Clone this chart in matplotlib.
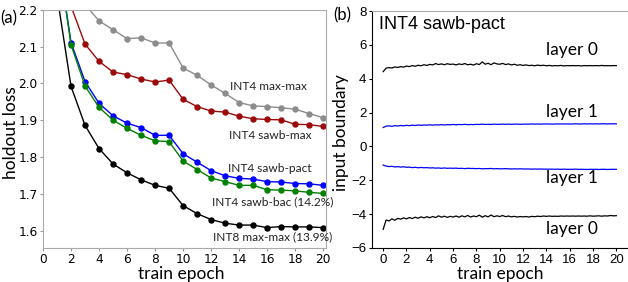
import numpy as np
import matplotlib
matplotlib.use("Agg")
import matplotlib.pyplot as plt

# ---- panel (a): holdout loss per epoch ----
epochs = list(range(1, 21))
int4_maxmax = [2.60, 2.40, 2.215, 2.170, 2.146, 2.122, 2.124, 2.110, 2.110, 2.042,
               2.022, 1.996, 1.973, 1.948, 1.939, 1.937, 1.934, 1.930, 1.918, 1.907]
int4_sawbmax = [2.50, 2.21, 2.107, 2.060, 2.031, 2.024, 2.012, 2.004, 2.009, 1.957,
                1.937, 1.925, 1.922, 1.911, 1.904, 1.902, 1.901, 1.889, 1.888, 1.883]
int4_sawbpact = [2.365, 2.111, 2.005, 1.946, 1.912, 1.892, 1.880, 1.859, 1.859, 1.809,
                 1.786, 1.763, 1.749, 1.742, 1.740, 1.733, 1.732, 1.728, 1.727, 1.723]
int4_sawbbac = [2.37, 2.105, 1.993, 1.935, 1.900, 1.878, 1.859, 1.844, 1.842, 1.789,
                1.766, 1.743, 1.733, 1.723, 1.723, 1.711, 1.710, 1.708, 1.704, 1.701]
int8_maxmax = [2.24, 1.992, 1.886, 1.823, 1.781, 1.757, 1.738, 1.723, 1.715, 1.668,
               1.646, 1.630, 1.620, 1.615, 1.615, 1.608, 1.611, 1.610, 1.610, 1.608]

# ---- panel (b): input boundary, sampled every 0.25 epoch ----
t_b = np.arange(81) * 0.25
l0_upper = [4.42, 4.63, 4.66, 4.64, 4.70, 4.67, 4.72, 4.69, 4.75,
            4.72, 4.78, 4.74, 4.80, 4.77, 4.83, 4.79, 4.85,
            4.82, 4.90, 4.84, 4.88, 4.83, 4.89, 4.85, 4.87,
            4.82, 4.88, 4.84, 4.90, 4.83, 4.86, 4.81, 4.89,
            4.84, 5.00, 4.86, 4.92, 4.83, 4.94, 4.88, 4.86,
            4.91, 4.84, 4.88, 4.82, 4.86, 4.80, 4.83, 4.79,
            4.82, 4.78, 4.80, 4.77, 4.81, 4.78, 4.80, 4.77,
            4.79, 4.76, 4.78, 4.77, 4.79, 4.76, 4.78, 4.77,
            4.78, 4.77, 4.78, 4.76, 4.78, 4.77, 4.78, 4.77,
            4.78, 4.77, 4.79, 4.77, 4.78, 4.77, 4.78, 4.78]
l1_upper = [1.12, 1.20, 1.22, 1.19, 1.23, 1.21, 1.24, 1.22, 1.25,
            1.23, 1.26, 1.24, 1.27, 1.25, 1.27, 1.26, 1.28,
            1.26, 1.28, 1.27, 1.29, 1.27, 1.29, 1.28, 1.30,
            1.28, 1.30, 1.29, 1.31, 1.29, 1.30, 1.29, 1.31,
            1.30, 1.32, 1.30, 1.31, 1.30, 1.32, 1.31, 1.31,
            1.32, 1.31, 1.32, 1.31, 1.32, 1.32, 1.31, 1.32,
            1.32, 1.32, 1.33, 1.32, 1.33, 1.32, 1.33, 1.33,
            1.33, 1.32, 1.33, 1.33, 1.33, 1.33, 1.33, 1.33,
            1.33, 1.34, 1.33, 1.33, 1.34, 1.33, 1.34, 1.33,
            1.34, 1.33, 1.34, 1.34, 1.33, 1.34, 1.34, 1.34]
l1_lower = [-1.10, -1.16, -1.19, -1.17, -1.21, -1.19, -1.22, -1.20, -1.23,
            -1.22, -1.25, -1.23, -1.26, -1.24, -1.26, -1.25, -1.27,
            -1.26, -1.28, -1.27, -1.29, -1.27, -1.29, -1.28, -1.29,
            -1.28, -1.30, -1.29, -1.31, -1.29, -1.30, -1.30, -1.31,
            -1.30, -1.32, -1.31, -1.31, -1.30, -1.32, -1.31, -1.32,
            -1.32, -1.31, -1.32, -1.33, -1.32, -1.33, -1.32, -1.33,
            -1.33, -1.33, -1.34, -1.33, -1.34, -1.33, -1.34, -1.34,
            -1.34, -1.34, -1.35, -1.34, -1.35, -1.34, -1.35, -1.35,
            -1.35, -1.34, -1.35, -1.35, -1.35, -1.36, -1.35, -1.35,
            -1.35, -1.36, -1.35, -1.35, -1.36, -1.35, -1.35, -1.35]
l0_lower = [-4.90, -4.35, -4.40, -4.28, -4.36, -4.25, -4.30, -4.22, -4.28,
            -4.20, -4.26, -4.18, -4.24, -4.16, -4.22, -4.15, -4.21,
            -4.14, -4.20, -4.10, -4.18, -4.12, -4.19, -4.13, -4.17,
            -4.11, -4.18, -4.10, -4.16, -4.08, -4.17, -4.11, -4.15,
            -4.06, -4.18, -4.09, -4.16, -4.05, -4.15, -4.10, -4.14,
            -4.08, -4.15, -4.11, -4.16, -4.13, -4.17, -4.14, -4.16,
            -4.14, -4.17, -4.13, -4.15, -4.12, -4.14, -4.11, -4.13,
            -4.11, -4.13, -4.12, -4.13, -4.11, -4.12, -4.11, -4.12,
            -4.11, -4.12, -4.11, -4.12, -4.11, -4.12, -4.10, -4.12,
            -4.11, -4.10, -4.12, -4.10, -4.11, -4.08, -4.10, -4.09]

label_font = "Lato"
W, H = 628, 282

fig = plt.figure(figsize=(6.28, 2.82), dpi=100)

# panel (a)
ax1 = fig.add_axes([0.0685, 0.121, 0.4506, 0.844])
series_a = [
    (int4_maxmax, "#8c8c8c", "INT4 max-max", 16.1, 1.991, "center"),
    (int4_sawbmax, "#9b0a0a", "INT4 sawb-max", 16.2, 1.858, "center"),
    (int4_sawbpact, "#0000ff", "INT4 sawb-pact", 16.2, 1.770, "center"),
    (int4_sawbbac, "#008000", "INT4 sawb-bac (14.2%)", 12.05, 1.679, "left"),
    (int8_maxmax, "#000000", "INT8 max-max (13.9%)", 12.15, 1.582, "left"),
]
for vals, col, lab, tx, ty, ha in series_a:
    ax1.plot(epochs, vals, color=col, lw=1.0, marker="o", ms=3.6)
    ax1.text(tx, ty, lab, ha=ha, va="center", fontsize=8.6, family=label_font,
             color="#222222")
ax1.set_xlim(0, 20.2)
ax1.set_ylim(1.553, 2.2)
ax1.set_xticks(range(0, 21, 2))
ax1.set_yticks([1.6, 1.7, 1.8, 1.9, 2.0, 2.1, 2.2])
ax1.tick_params(labelsize=8.7, length=2.5, pad=1.5, color="#999999")
for s in ax1.spines.values():
    s.set_color("#aaaaaa")
fig.text(181 / W, 1 - 274 / H, "train epoch", fontsize=12.5, family=label_font,
         ha="center", va="center")
fig.text(11 / W, 1 - 133 / H, "holdout loss", fontsize=12.5, family=label_font,
         rotation=90, ha="center", va="center")
fig.text(0.0, 1 - 18 / H, "(a)", fontsize=12, family=label_font, va="center")

# panel (b)
ax2 = fig.add_axes([0.5925, 0.1206, 0.4075, 0.840])
ax2.plot(t_b, l0_upper, color="black", lw=0.9)
ax2.plot(t_b, l1_upper, color="#0000ff", lw=0.9)
ax2.plot(t_b, l1_lower, color="#0000ff", lw=0.9)
ax2.plot(t_b, l0_lower, color="black", lw=0.9)
ax2.set_xlim(-0.95, 21.0)
ax2.set_ylim(-6, 8)
ax2.set_xticks(range(0, 21, 2))
ax2.set_yticks(range(-6, 9, 2))
ax2.tick_params(labelsize=9.5, length=2.5, pad=1.5)
for lab in ax2.get_xticklabels() + ax2.get_yticklabels():
    lab.set_family("Liberation Sans")
ax2.spines["top"].set_color("#aaaaaa")
ax2.spines["right"].set_visible(False)
ax2.text(-0.35, 7.2, "INT4 sawb-pact", fontsize=13, family="Liberation Sans",
         va="center")
for ty, lab in [(5.72, "layer 0"), (2.03, "layer 1"), (-1.88, "layer 1"), (-4.87, "layer 0")]:
    ax2.text(16.2, ty, lab, fontsize=12.5, family=label_font, ha="center", va="center")
fig.text(500 / W, 1 - 274 / H, "train epoch", fontsize=12.5, family=label_font,
         ha="center", va="center")
fig.text(341 / W, 1 - 133 / H, "input boundary", fontsize=12.5, family=label_font,
         rotation=90, ha="center", va="center")
fig.text(333 / W, 1 - 15 / H, "(b)", fontsize=12, family=label_font, va="center")

fig.savefig("out.png", dpi=100)
